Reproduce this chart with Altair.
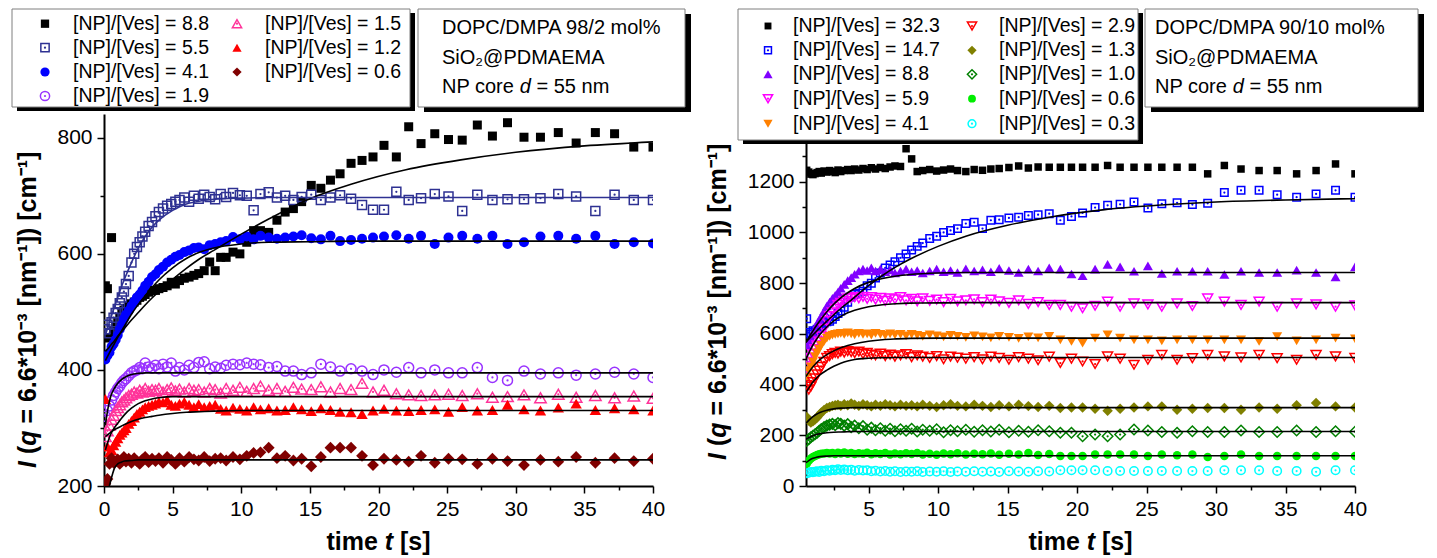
import altair as alt
import pandas as pd

FONT = "Liberation Sans, Arial, sans-serif"

# ---------------- data ----------------
T = [0.1, 0.25, 0.4, 0.55, 0.7, 0.85, 1.0, 1.15, 1.3, 1.45,
     1.6, 1.8, 2.0, 2.2, 2.4, 2.6, 2.8, 3.0, 3.25, 3.5,
     3.75, 4.0, 4.3, 4.6, 4.9, 5.2, 5.5, 5.85, 6.2, 6.55,
     6.9, 7.3, 7.7, 8.1, 8.5, 8.9, 9.4, 9.9, 10.4, 10.9,
     11.4, 12.0, 12.6, 13.2, 13.8, 14.4, 15.1, 15.8, 16.5, 17.2,
     18.0, 18.8, 19.6, 20.4, 21.3, 22.2, 23.1, 24.1, 25.1, 26.1,
     27.2, 28.3, 29.4, 30.6, 31.8, 33.1, 34.4, 35.8, 37.2, 38.6,
     40.0]
TR = T[3:]
TF = [0.1, 0.3, 0.5, 0.75, 1.0, 1.25, 1.5, 2.0, 2.5, 3.0, 3.5, 4.0, 5.0,
      6.0, 7.0, 8.0, 10.0, 12.0, 15.0, 18.0, 22.0, 26.0, 30.0, 35.0, 40.0]
TFR = TF[2:]

# left panel: DOPC/DMPA 98/2
L88 = [545, 540, 455, 628, 468, 475, 483, 490, 497, 503,
       506, 510, 514, 517, 520, 525, 527, 530, 534, 537,
       537, 540, 542, 545, 551, 548, 554, 558, 560, 563,
       566, 571, 586, 571, 594, 594, 603, 600, 620, 640,
       640, 637, 658, 672, 678, 690, 718, 713, 727, 738,
       756, 761, 767, 787, 767, 819, 790, 807, 797, 796,
       822, 803, 826, 801, 801, 809, 791, 809, 807, 784,
       784]
L55 = [470, 478, 463, 482, 490, 498, 505, 515, 525, 535,
       548, 562, 585, 600, 612, 620, 630, 638, 648, 655,
       665, 672, 678, 683, 686, 690, 693, 697, 690, 700,
       695, 702, 698, 694, 703, 698, 705, 701, 700, 675,
       703, 706, 697, 700, 693, 698, 702, 693, 697, 701,
       695, 684, 676, 676, 707, 693, 696, 703, 699, 674,
       702, 693, 694, 694, 696, 703, 699, 674, 702, 693,
       693]
L41 = [418, 425, 430, 440, 445, 452, 460, 470, 478, 488,
       495, 502, 510, 518, 525, 530, 537, 545, 552, 560,
       565, 572, 578, 585, 590, 595, 598, 603, 606, 610,
       611, 608, 615, 617, 620, 622, 629, 625, 630, 625,
       631, 628, 626, 628, 630, 632, 627, 625, 631, 622,
       624, 626, 628, 630, 632, 626, 631, 617, 628, 631,
       626, 631, 617, 620, 630, 631, 626, 631, 617, 620,
       618]
L19 = [320, 330, 338, 348, 356, 362, 368, 372, 378, 382,
       385, 390, 395, 398, 400, 404, 402, 412, 405, 403,
       408, 402, 410, 405, 412, 398, 404, 400, 408, 404,
       413, 414, 402, 405, 403, 408, 410, 409, 412, 410,
       409, 404, 406, 398, 398, 392, 395, 410, 405, 398,
       402, 398, 392, 400, 396, 404, 395, 400, 395, 395,
       404, 387, 382, 398, 393, 395, 391, 393, 396, 393,
       387]
L15 = [285, 295, 305, 315, 322, 330, 335, 340, 345, 348,
       352, 356, 358, 362, 360, 365, 362, 368, 363, 366,
       365, 368, 362, 366, 369, 364, 367, 362, 368, 365,
       366, 362, 368, 366, 360, 368, 365, 370, 363, 368,
       372, 365, 368, 363, 370, 367, 366, 371, 362, 368,
       366, 377, 362, 365, 359, 357, 356, 357, 358, 356,
       359, 353, 354, 357, 352, 358, 353, 356, 352, 355,
       351]
L12 = [350, 268, 258, 262, 270, 276, 282, 288, 292, 296,
       300, 307, 312, 318, 324, 328, 332, 336, 338, 340,
       342, 345, 344, 348, 340, 338, 342, 345, 340, 336,
       341, 336, 338, 340, 333, 330, 335, 333, 330, 336,
       332, 334, 330, 331, 336, 332, 329, 334, 331, 328,
       327, 324, 330, 333, 330, 329, 331, 332, 328, 336,
       330, 331, 340, 332, 330, 335, 342, 331, 334, 332,
       330]
L06 = [204, 212, 238, 248, 240, 242, 246, 238, 244, 250,
       242, 247, 240, 248, 243, 238, 246, 250, 241, 247,
       243, 248, 240, 250, 245, 238, 248, 242, 250, 246,
       244, 250, 243, 247, 248, 244, 250, 246, 252, 257,
       258, 266, 248, 252, 244, 247, 234, 250, 266, 266,
       266, 252, 236, 247, 245, 242, 252, 240, 247, 246,
       238, 247, 243, 236, 245, 242, 250, 240, 248, 243,
       247]

FL88 = [432, 437, 443, 450, 458, 465, 472, 486, 499, 512, 524, 535, 556,
        575, 592, 606, 634, 660, 695, 720, 745, 762, 775, 786, 793]
FL55 = [460, 475, 490, 508, 525, 542, 557, 585, 610, 630, 646, 658, 675,
        686, 691, 694, 696, 697, 697, 697, 697, 697, 697, 697, 697]
FL41 = [416, 425, 434, 445, 456, 466, 476, 496, 513, 528, 542, 555, 576,
        592, 603, 610, 617, 620, 621, 622, 622, 622, 622, 622, 622]
FL19 = [305, 335, 355, 368, 377, 383, 387, 392, 394, 395, 395, 395, 395,
        395, 395, 395, 395, 395, 395, 395, 395, 395, 395, 395, 395]
FL15 = [262, 277, 290, 300, 308, 316, 323, 334, 342, 347, 350, 352, 354,
        354, 354, 354, 354, 354, 354, 354, 354, 354, 354, 354, 354]
FL12 = [285, 289, 293, 297, 300, 303, 306, 311, 315, 318, 320, 322, 325,
        327, 328, 329, 330, 330, 330, 330, 330, 330, 330, 330, 330]
FL06 = [160, 190, 210, 230, 238, 241, 243, 244, 245, 245, 245, 245, 245,
        245, 245, 245, 245, 245, 245, 245, 245, 245, 245, 245, 245]

# right panel: DOPC/DMPA 90/10
R323 = [1245, 1238, 1230, 1228, 1232, 1236, 1240, 1234, 1242, 1238,
        1244, 1240, 1236, 1246, 1240, 1244, 1248, 1244, 1250, 1246,
        1252, 1248, 1255, 1250, 1256, 1252, 1258, 1262, 1260, 1330,
        1290, 1240, 1244, 1248, 1242, 1246, 1250, 1244, 1240, 1248,
        1245, 1250, 1252, 1256, 1262, 1254, 1258, 1257, 1257, 1257,
        1257, 1257, 1264, 1257, 1257, 1257, 1257, 1257, 1257, 1231,
        1264, 1250, 1244, 1244, 1231, 1244, 1270, 1231]
R147 = [660, 605, 598, 612, 610, 618, 625, 632, 642, 648,
        650, 658, 668, 680, 690, 705, 725, 745, 755, 760,
        768, 790, 800, 820, 840, 860, 872, 884, 900, 915,
        931, 945, 958, 976, 985, 1000, 1008, 1015, 1035, 1040,
        1015, 1048, 1050, 1057, 1060, 1067, 1070, 1074, 1048, 1063,
        1077, 1098, 1107, 1111, 1120, 1096, 1113, 1117, 1110, 1115,
        1157, 1166, 1166, 1149, 1139, 1152, 1166, 1139]
R88 = [555, 570, 585, 600, 620, 640, 655, 670, 690, 710,
       725, 740, 752, 765, 780, 795, 810, 822, 835, 848,
       855, 850, 860, 848, 855, 845, 852, 840, 848, 855,
       845, 850, 840, 848, 855, 845, 850, 842, 856, 848,
       852, 845, 858, 850, 842, 855, 848, 860, 855, 836,
       829, 855, 874, 864, 847, 868, 838, 847, 847, 847,
       834, 847, 842, 842, 851, 842, 825, 864]
R59 = [465, 490, 505, 520, 540, 555, 570, 590, 620, 650,
       670, 685, 700, 714, 722, 730, 740, 742, 745, 740,
       746, 738, 745, 735, 742, 730, 740, 736, 745, 732,
       738, 728, 740, 730, 735, 725, 738, 728, 732, 736,
       725, 735, 728, 722, 732, 718, 725, 714, 714, 707,
       701, 711, 727, 707, 720, 716, 707, 720, 710, 740,
       727, 714, 727, 707, 720, 716, 707, 712]
R41 = [430, 455, 470, 490, 510, 525, 540, 555, 570, 583,
       590, 595, 598, 600, 602, 598, 604, 600, 596, 602,
       598, 600, 595, 602, 598, 594, 600, 596, 598, 592,
       598, 594, 590, 596, 592, 588, 594, 590, 586, 592,
       588, 584, 590, 586, 582, 588, 584, 590, 576, 570,
       563, 583, 596, 583, 576, 576, 572, 576, 576, 576,
       576, 576, 570, 589, 572, 576, 583, 580]
R29 = [398, 380, 392, 410, 425, 440, 455, 470, 490, 505,
       512, 520, 525, 522, 530, 526, 532, 528, 524, 530,
       520, 525, 518, 515, 522, 512, 518, 510, 515, 520,
       508, 515, 510, 505, 512, 500, 510, 506, 502, 508,
       500, 510, 505, 498, 508, 502, 496, 510, 485, 502,
       491, 481, 511, 502, 478, 498, 517, 498, 504, 517,
       511, 507, 517, 504, 498, 517, 511, 505]
R13 = [272, 258, 250, 255, 262, 270, 280, 290, 300, 308,
       312, 316, 318, 320, 316, 322, 318, 325, 320, 316,
       322, 318, 314, 320, 316, 322, 318, 314, 320, 316,
       318, 314, 320, 316, 312, 318, 322, 316, 314, 320,
       316, 312, 318, 314, 320, 315, 312, 316, 308, 310,
       310, 305, 297, 305, 310, 314, 314, 301, 305, 308,
       308, 301, 310, 305, 318, 327, 314, 310]
R10 = [178, 185, 192, 198, 204, 210, 218, 225, 232, 238,
       242, 245, 240, 248, 245, 238, 244, 232, 238, 228,
       236, 222, 230, 220, 228, 218, 226, 216, 224, 218,
       226, 215, 222, 218, 224, 212, 220, 216, 222, 214,
       220, 215, 222, 212, 218, 214, 220, 216, 210, 210,
       196, 203, 196, 203, 223, 219, 213, 210, 216, 213,
       213, 219, 213, 213, 219, 213, 216, 214]
R06 = [88, 100, 108, 114, 118, 122, 125, 127, 128, 130,
       128, 130, 126, 131, 128, 132, 127, 130, 126, 129,
       127, 131, 125, 129, 126, 130, 124, 128, 125, 129,
       126, 130, 124, 127, 123, 128, 125, 129, 124, 127,
       125, 128, 123, 127, 124, 130, 122, 126, 118, 118,
       118, 124, 124, 124, 124, 118, 124, 121, 124, 114,
       118, 124, 118, 118, 118, 118, 118, 118]
R03 = [50, 52, 55, 54, 56, 58, 55, 60, 58, 62,
       60, 64, 62, 66, 63, 65, 62, 64, 60, 63,
       61, 62, 58, 60, 57, 59, 56, 58, 55, 57,
       56, 58, 55, 57, 56, 58, 55, 57, 56, 58,
       56, 57, 55, 58, 57, 56, 58, 57, 62, 62,
       62, 62, 59, 59, 59, 59, 59, 59, 59, 59,
       62, 62, 62, 59, 59, 56, 62, 62]

FR147 = [568, 582, 596, 610, 624, 650, 675, 700, 722, 745, 790, 830,
         865, 895, 945, 985, 1028, 1060, 1090, 1108, 1120, 1128, 1133]
FR88 = [565, 590, 612, 633, 652, 687, 717, 742, 762, 779, 803, 818,
        828, 834, 840, 842, 842, 842, 842, 842, 842, 842, 842]
FR59 = [500, 530, 556, 578, 597, 627, 651, 669, 683, 693, 707, 715,
        719, 721, 722, 723, 723, 723, 723, 723, 723, 723, 723]
FR41 = [432, 452, 470, 485, 498, 518, 533, 545, 554, 561, 571, 577,
        580, 582, 583, 583, 583, 583, 583, 583, 583, 583, 583]
FR29 = [370, 390, 410, 425, 438, 457, 472, 484, 493, 499, 504, 506,
        507, 507, 507, 507, 507, 507, 507, 507, 507, 507, 507]
FR13 = [248, 262, 274, 283, 290, 299, 304, 307, 308, 309, 309, 309,
        309, 309, 309, 309, 309, 309, 309, 309, 309, 309, 309]
FR10 = [185, 192, 198, 203, 206, 210, 212, 213, 214, 215, 215, 215,
        215, 215, 215, 215, 215, 215, 215, 215, 215, 215, 215]
FR06 = [92, 102, 109, 113, 116, 118, 119, 119, 119, 119, 119, 119,
        119, 119, 119, 119, 119, 119, 119, 119, 119, 119, 119]

LABELS_L = ["8.8", "5.5", "4.1", "1.9", "1.5", "1.2", "0.6"]
LABELS_R = ["32.3", "14.7", "8.8", "5.9", "4.1", "2.9", "1.3", "1.0", "0.6", "0.3"]

# ---------------- styles ----------------
# (label, values, fit, color, shape, filled, dot, size, fit colour)
LEFT = [
    (LABELS_L[0], L88, FL88, "#000000", "square", True, False, 81, "#000000"),
    (LABELS_L[1], L55, FL55, "#2E3192", "square", False, True, 81, "#2E3192"),
    (LABELS_L[2], L41, FL41, "#0000FF", "circle", True, False, 100, "#000000"),
    (LABELS_L[3], L19, FL19, "#9933FF", "circle", False, True, 100, "#000000"),
    (LABELS_L[4], L15, FL15, "#FF3399", "triangle-up", False, True, 130, "#000000"),
    (LABELS_L[5], L12, FL12, "#FF0000", "triangle-up", True, False, 130, "#000000"),
    (LABELS_L[6], L06, FL06, "#800000", "diamond", True, False, 140, "#000000"),
]
RIGHT = [
    (LABELS_R[0], R323, None, "#000000", "square", True, False, 56, "#000000"),
    (LABELS_R[1], R147, FR147, "#0000FF", "square", False, True, 56, "#000000"),
    (LABELS_R[2], R88, FR88, "#8000FF", "triangle-up", True, False, 100, "#000000"),
    (LABELS_R[3], R59, FR59, "#FF00FF", "triangle-down", False, True, 100, "#000000"),
    (LABELS_R[4], R41, FR41, "#FF8000", "triangle-down", True, False, 100, "#000000"),
    (LABELS_R[5], R29, FR29, "#FF0000", "triangle-down", False, True, 100, "#000000"),
    (LABELS_R[6], R13, FR13, "#808000", "diamond", True, False, 110, "#000000"),
    (LABELS_R[7], R10, FR10, "#008000", "diamond", False, True, 110, "#000000"),
    (LABELS_R[8], R06, FR06, "#00EE00", "circle", True, False, 72, "#000000"),
    (LABELS_R[9], R03, None, "#00FFFF", "circle", False, True, 72, "#000000"),
]

W, H = 549, 372


def one():
    return alt.Data(values=[{}])


def axis_major(orient, values):
    return alt.Axis(orient=orient, values=values, format="d", grid=False,
                    labelFont=FONT, labelFontSize=21, labelColor="black",
                    labelPadding=5, labelFlush=False, labelOverlap=False,
                    tickSize=7, tickWidth=1.5, tickColor="black",
                    domainColor="black", domainWidth=2, title=None)


def axis_minor(orient, values):
    return alt.Axis(orient=orient, values=values, labels=False, domain=False,
                    grid=False, tickSize=4, tickWidth=1.5, tickColor="black",
                    title=None)


def txt(s, x, y, size=20, weight="normal", style="normal", angle=0):
    kw = dict(text=s, align="left", baseline="alphabetic", font=FONT,
              fontSize=size, fontWeight=weight, fontStyle=style, color="black")
    if angle:
        kw["angle"] = angle
    return alt.Chart(one()).mark_text(**kw).encode(x=alt.value(x), y=alt.value(y))


def titles(ytx, ty0):
    # x title "time t [s]" (bold, italic t) centred under the plot
    x0 = W / 2 - 52.1
    yb = H + 64
    out = [
        txt("time", x0, yb, 25, "bold"),
        txt("t", x0 + 58.35, yb, 25, "bold", "italic"),
        txt("[s]", x0 + 73.6, yb, 25, "bold"),
    ]
    # y title, rotated, reading upwards
    out += [
        txt("I", ytx, ty0, 25, "bold", "italic", 270),
        txt("(", ytx, ty0 - 13.9, 25, "bold", "normal", 270),
        txt("q", ytx, ty0 - 22.2, 25, "bold", "italic", 270),
        txt("= 6.6*10\u207b\u00b3 [nm\u207b\u00b9]) [cm\u207b\u00b9]", ytx, ty0 - 44.4,
            25, "bold", "normal", 270),
    ]
    return out


def panel(series, times, ftimes, xdom, ydom, xmaj, xmin, ymaj, ymin,
          legend_rows, leg_box, text_box):
    xsc = alt.Scale(domain=xdom, nice=False, zero=False)
    ysc = alt.Scale(domain=ydom, nice=False, zero=False)

    def xe(axis=None):
        return alt.X("t:Q", scale=xsc, axis=axis)

    def ye(axis=None):
        return alt.Y("v:Q", scale=ysc, axis=axis)

    anchor = pd.DataFrame({"t": [xdom[0]], "v": [ydom[0]]})
    layers = [
        alt.Chart(anchor).mark_point(opacity=0).encode(
            x=xe(axis_major("bottom", xmaj)), y=ye(axis_major("left", ymaj))),
        alt.Chart(anchor).mark_point(opacity=0).encode(
            x=xe(axis_minor("bottom", xmin)), y=ye(axis_minor("left", ymin))),
    ]
    for (lab, vals, fit, col, shp, filled, dot, size, fcol) in series:
        df = pd.DataFrame({"t": times, "v": vals})
        layers.append(alt.Chart(df).mark_point(
            shape=shp, filled=filled, color=col, size=size, strokeWidth=1.5,
            opacity=1, clip=True).encode(x=xe(), y=ye()))
        if dot:
            layers.append(alt.Chart(df).mark_point(
                shape="circle", filled=True, color=col, size=5, opacity=1,
                clip=True).encode(x=xe(), y=ye()))
    for (lab, vals, fit, col, shp, filled, dot, size, fcol) in series:
        if fit is not None:
            fdf = pd.DataFrame({"t": ftimes, "v": fit})
            layers.append(alt.Chart(fdf).mark_line(
                color=fcol, strokeWidth=1.6, interpolate="monotone",
                clip=True).encode(x=xe(), y=ye()))

    def rect(x1, y1, x2, y2, fill, stroke=None):
        kw = dict(fill=fill, opacity=1)
        if stroke:
            kw.update(stroke=stroke, strokeWidth=1)
        return alt.Chart(one()).mark_rect(**kw).encode(
            x=alt.value(x1), x2=alt.value(x2), y=alt.value(y1), y2=alt.value(y2))

    x1, y1, x2, y2 = leg_box
    layers.append(rect(x1 + 5, y1 + 4, x2 + 5, y2 + 4, "black"))
    layers.append(rect(x1, y1, x2, y2, "white", "#7f7f7f"))

    leg = pd.DataFrame(legend_rows)
    PX = lambda f: alt.X(f, scale=None, axis=None)
    PY = lambda f: alt.Y(f, scale=None, axis=None)
    enc = dict(x=PX("sx:Q"), y=PY("sy:Q"),
               shape=alt.Shape("shape:N", scale=None, legend=None),
               color=alt.Color("color:N", scale=None, legend=None),
               size=alt.Size("size:Q", scale=None, legend=None))
    fl = leg[leg["filled"] == 1]
    op = leg[leg["filled"] == 0]
    layers.append(alt.Chart(fl).mark_point(filled=True, opacity=1).encode(**enc))
    layers.append(alt.Chart(op).mark_point(filled=False, opacity=1, strokeWidth=1.5).encode(**enc))
    layers.append(alt.Chart(op).mark_point(filled=True, opacity=1, shape="circle", size=5).encode(
        x=PX("sx:Q"), y=PY("sy:Q"), color=alt.Color("color:N", scale=None, legend=None)))
    layers.append(alt.Chart(leg).mark_text(
        align="left", baseline="middle", font=FONT, fontSize=19.5, color="black").encode(
        x=PX("tx:Q"), y=PY("sy:Q"), text="label:N"))

    x1, y1, x2, y2 = text_box
    layers.append(rect(x1 + 6, y1 + 5, x2 + 6, y2 + 5, "black"))
    layers.append(rect(x1, y1, x2, y2, "white", "#7f7f7f"))
    return layers


def legend_rows(series, pos_sym, pos_txt):
    rows = []
    for (lab, vals, fit, col, shp, filled, dot, size, fcol), (sx, sy), tx in zip(series, pos_sym, pos_txt):
        rows.append(dict(sx=sx, sy=sy, tx=tx, label="[NP]/[Ves] = " + lab,
                         color=col, shape=shp, size=min(size, 100) * 0.85,
                         filled=1 if filled else 0))
    return rows


def box_text(first_line, bx):
    return [
        txt(first_line, bx, -80),
        txt("SiO\u2082@PDMAEMA", bx, -50),
        txt("NP core", bx, -21),
        txt("d", bx + 77.8, -21, style="italic"),
        txt("= 55 nm", bx + 94.5, -21),
    ]


# ---------------- left panel ----------------
ly = [-90.3, -66.3, -42.0, -18.0]
lpos = [(-59, ly[0]), (-59, ly[1]), (-59, ly[2]), (-59, ly[3]),
        (133, ly[0]), (133, ly[1]), (133, ly[2])]
ltx = [-31, -31, -31, -31, 161, 161, 161]
layersL = panel(
    LEFT, T, TF, [0, 40], [200, 841],
    [0, 5, 10, 15, 20, 25, 30, 35, 40],
    [2.5, 7.5, 12.5, 17.5, 22.5, 27.5, 32.5, 37.5],
    [200, 400, 600, 800], [300, 500, 700],
    legend_rows(LEFT, lpos, ltx),
    (-92, -105, 306, -7), (314, -105, 581, -7))
layersL += box_text("DOPC/DMPA 98/2 mol%", 338)
layersL += titles(-68, 354)
layersL.append(alt.Chart(one()).mark_rect(fill="white", opacity=1).encode(
    x=alt.value(-96), x2=alt.value(-94), y=alt.value(-105), y2=alt.value(-103)))
left = alt.layer(*layersL).resolve_axis(x="independent", y="independent").properties(width=W, height=H)

# ---------------- right panel ----------------
ry = [-88.0, -63.7, -39.7, -15.3, 9.7]
rpos = [(-38, y) for y in ry] + [(166, y) for y in ry]
rtx = [-13] * 5 + [193] * 5
layersR = panel(
    RIGHT, TR, TFR, [0.5, 40], [0, 1467],
    [5, 10, 15, 20, 25, 30, 35, 40],
    [2.5, 7.5, 12.5, 17.5, 22.5, 27.5, 32.5, 37.5],
    [0, 200, 400, 600, 800, 1000, 1200],
    [100, 300, 500, 700, 900, 1100, 1300],
    legend_rows(RIGHT, rpos, rtx),
    (-68, -105, 332, 26), (339, -105, 612, -7))
layersR += box_text("DOPC/DMPA 90/10 mol%", 349)
layersR += titles(-80, 346)
right = alt.layer(*layersR).resolve_axis(x="independent", y="independent").properties(width=W, height=H)

chart = alt.hconcat(left, right, spacing=153, bounds="flush").properties(
    padding=0).configure_view(stroke=None)

chart.save("out.html", embed_options={"renderer": "svg", "actions": False})
